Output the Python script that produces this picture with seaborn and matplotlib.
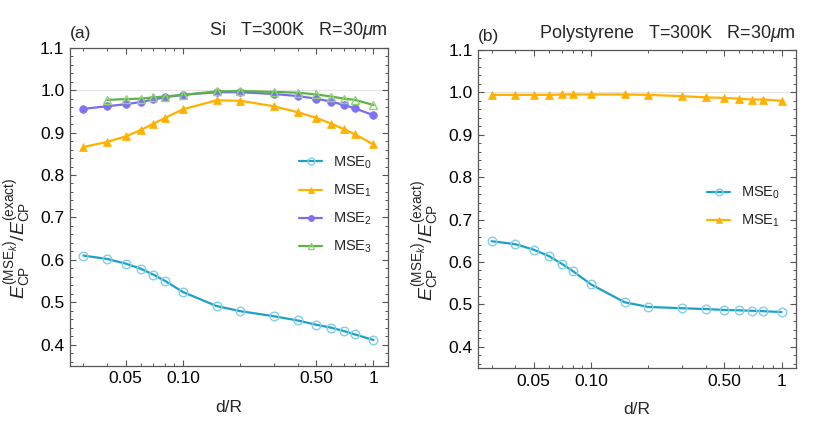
import numpy as np
import pandas as pd
import seaborn as sns
import matplotlib
matplotlib.use("Agg")
from matplotlib import pyplot as plt
from matplotlib.ticker import FixedLocator, LogLocator, NullFormatter, FixedFormatter

# d/R sample positions
d_over_r = [0.03, 0.04, 0.05, 0.06, 0.07, 0.08, 0.1, 0.15, 0.2,
            0.3, 0.4, 0.5, 0.6, 0.7, 0.8, 1.0]

# panel (a): Si
si_mse0 = [0.610, 0.602, 0.591, 0.579, 0.565, 0.551, 0.524, 0.491, 0.479,
           0.467, 0.457, 0.447, 0.440, 0.432, 0.424, 0.411]
si_mse1 = [0.866, 0.878, 0.891, 0.906, 0.921, 0.934, 0.955, 0.976, 0.975,
           0.962, 0.948, 0.935, 0.921, 0.908, 0.896, 0.872]
si_mse2 = [0.956, 0.962, 0.967, 0.972, 0.978, 0.983, 0.989, 0.995, 0.995,
           0.991, 0.986, 0.980, 0.973, 0.965, 0.957, 0.941]
si_mse3 = [np.nan, 0.977, 0.979, 0.980, 0.983, 0.985, 0.989, 0.997, 0.998,
           0.996, 0.994, 0.990, 0.985, 0.980, 0.977, 0.965]

# panel (b): Polystyrene
ps_mse0 = [0.649, 0.642, 0.629, 0.614, 0.596, 0.579, 0.547, 0.505, 0.494,
           0.491, 0.489, 0.487, 0.486, 0.485, 0.484, 0.482]
ps_mse1 = [0.994, 0.994, 0.994, 0.994, 0.995, 0.995, 0.995, 0.995, 0.994,
           0.991, 0.988, 0.987, 0.985, 0.983, 0.983, 0.980]

x_ticks = [0.05, 0.1, 0.5, 1.0]
x_ticklabels = ["0.05", "0.10", "0.50", "1"]
y_ticks = [0.4, 0.5, 0.6, 0.7, 0.8, 0.9, 1.0, 1.1]

sns.set_style("ticks")
plt.rcParams['font.family'] = ['Liberation Sans', 'DejaVu Sans']
plt.rcParams['mathtext.fontset'] = 'custom'
plt.rcParams['mathtext.rm'] = 'Liberation Sans'
plt.rcParams['mathtext.it'] = 'Liberation Sans:italic'
plt.rcParams['mathtext.bf'] = 'Liberation Sans:bold'

# style per series: line colour, marker, marker face / edge, size
styles = {
    "MSE$_0$": dict(color="#1ea0c8", marker="o", mfc="none", mec="#80d0ea", ms=6.2, mew=1.0),
    "MSE$_1$": dict(color="#ffb000", marker="^", mfc="#ffb000", mec="#ffb000", ms=5.5, mew=0.5),
    "MSE$_2$": dict(color="#7a6cf2", marker="o", mfc="#7f72f2", mec="#7f72f2", ms=5.5, mew=0.5),
    "MSE$_3$": dict(color="#5db443", marker="^", mfc="none", mec="#8fd27a", ms=5.5, mew=1.0),
}


def draw_panel(ax, series, tag, title):
    ax.axhline(1.0, color="#e4e4e4", lw=0.8, zorder=0)
    for name, vals in series:
        df = pd.DataFrame({"x": d_over_r, "y": vals}).dropna()
        st = styles[name]
        sns.lineplot(data=df, x="x", y="y", ax=ax, label=name, color=st["color"],
                     marker=st["marker"], markerfacecolor=st["mfc"],
                     markeredgecolor=st["mec"], markersize=st["ms"],
                     markeredgewidth=st["mew"], linewidth=1.6)
    ax.set_xscale("log")
    ax.set_xlim(0.0255, 1.19)
    ax.set_ylim(0.35, 1.1)
    ax.xaxis.set_major_locator(FixedLocator(x_ticks))
    ax.xaxis.set_major_formatter(FixedFormatter(x_ticklabels))
    ax.xaxis.set_minor_locator(LogLocator(base=10, subs=np.arange(2, 10)))
    ax.xaxis.set_minor_formatter(NullFormatter())
    ax.yaxis.set_major_locator(FixedLocator(y_ticks))
    ax.yaxis.set_major_formatter(FixedFormatter([f"{v:.1f}" for v in y_ticks]))
    ax.yaxis.set_minor_locator(FixedLocator(np.arange(0.36, 1.1, 0.02)))
    ax.tick_params(which="both", direction="in", top=True, right=True,
                   color="#555555", labelsize=12.5, labelcolor="black")
    ax.tick_params(which="major", length=4.5, width=0.8, pad=4)
    ax.tick_params(which="minor", length=2.5, width=0.7)
    for sp in ax.spines.values():
        sp.set_color("#555555")
        sp.set_linewidth(0.9)
    ax.set_xlabel("d/R", fontsize=12.5, labelpad=10)
    ax.set_ylabel(r"$E_{\mathrm{CP}}^{(\mathrm{MSE}_k)}/E_{\mathrm{CP}}^{(\mathrm{exact})}$",
                  fontsize=14)
    ax.yaxis.set_label_coords(-0.112, 0.4)
    ax.text(0.0, 1.02, tag, transform=ax.transAxes, fontsize=12.5, ha="left", va="bottom")
    ax.text(1.0, 1.02, title, transform=ax.transAxes, fontsize=13, ha="right", va="bottom")
    handles, labels = ax.get_legend_handles_labels()
    ax.legend(handles, labels, loc="center right", bbox_to_anchor=(0.972, 0.506),
              frameon=False, fontsize=10.5, handlelength=1.6, handletextpad=0.7,
              labelspacing=0.8, borderpad=0, markerscale=0.8)


fig = plt.figure(figsize=(8.3, 4.34), dpi=100)
ax_a = fig.add_axes([0.0843, 0.157, 0.383, 0.733])
ax_b = fig.add_axes([0.576, 0.152, 0.383, 0.733])

draw_panel(ax_a, [("MSE$_0$", si_mse0), ("MSE$_1$", si_mse1),
                  ("MSE$_2$", si_mse2), ("MSE$_3$", si_mse3)],
           "(a)", r"Si   T=300K   R=30$\mu$m")
draw_panel(ax_b, [("MSE$_0$", ps_mse0), ("MSE$_1$", ps_mse1)],
           "(b)", r"Polystyrene   T=300K   R=30$\mu$m")

fig.savefig("out.png", dpi=100)
